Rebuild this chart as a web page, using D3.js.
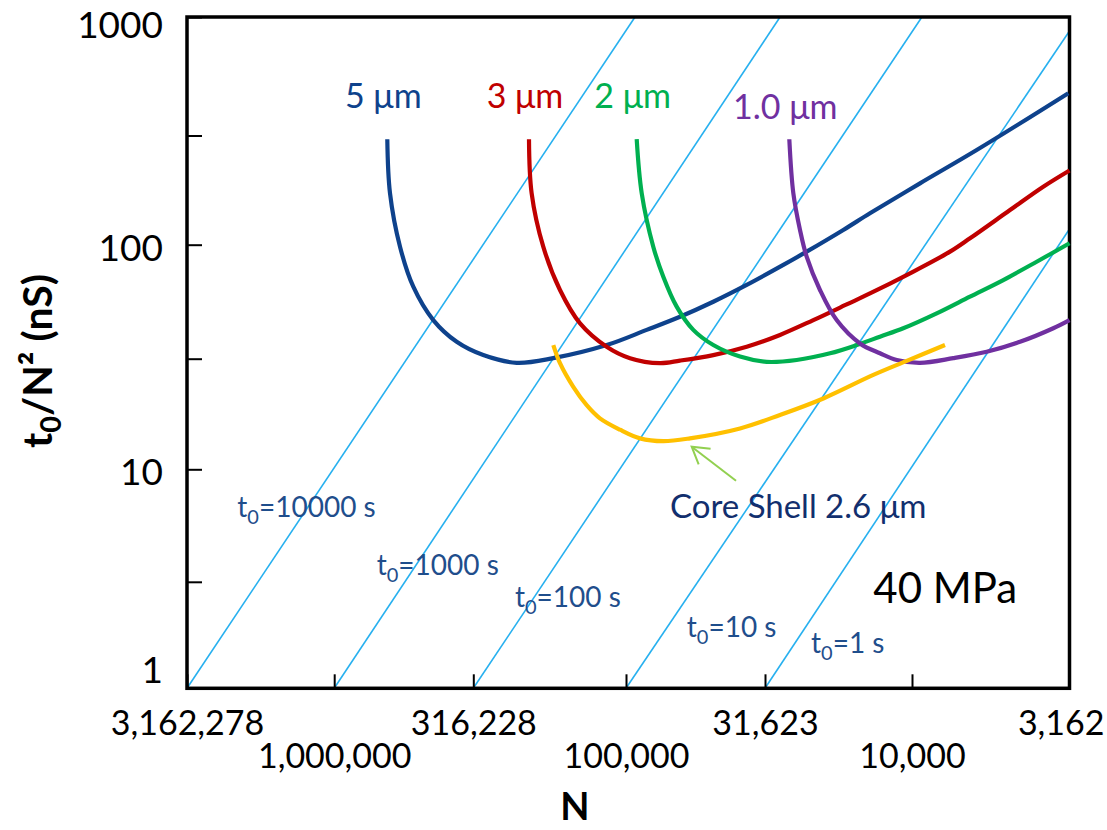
<!DOCTYPE html>
<html><head><meta charset="utf-8">
<script src="https://cdn.jsdelivr.net/npm/d3@7"></script>
<style>body{margin:0;background:#fff}svg{display:block}text{font-family:Lato,"Open Sans",sans-serif}</style>
</head><body>
<svg id="chart" width="1107" height="830"></svg>
<script>
// ---------- data ----------
const xTickValues = [3162278, 1000000, 316228, 100000, 31623, 10000, 3162];
const xTickLabels = ["3,162,278", "1,000,000", "316,228", "100,000", "31,623", "10,000", "3,162"];
const yTickValues = [1, 3.1623, 10, 31.623, 100, 316.23, 1000];
const yTickLabels = ["1", "", "10", "", "100", "", "1000"];

const seriesNames = ["5 μm", "3 μm", "2 μm", "1.0 μm", "Core Shell 2.6 μm"];

const n5 = [644400, 630100, 580000, 519600, 440400, 362800, 293400, 228000, 173000, 115700, 84260, 63940, 48530, 36800, 27400, 22820, 17130, 13900, 9432, 6232, 3190];
const v5 = [304, 172, 98, 65.4, 46.7, 37.5, 32.8, 30.3, 31.8, 36.3, 42.3, 48.3, 56.2, 66.6, 81.5, 93.2, 116.8, 139.2, 191.0, 271.4, 477];

const n3 = [207800, 203700, 186600, 164500, 141400, 115700, 96740, 75460, 63940, 48530, 36800, 28120, 21660, 16680, 13900, 10160, 7575, 6544, 4885, 3831, 3162];
const v3 = [304, 172, 98, 63.3, 45.2, 35.7, 31.8, 30.2, 31.0, 32.8, 35.7, 40.2, 46.7, 54.7, 61.1, 74.9, 93.2, 107.0, 144.1, 184.3, 218.7];

const n2 = [91520, 87800, 79780, 73420, 65720, 57280, 48530, 38890, 31200, 24680, 19000, 15420, 12850, 10710, 8350, 6544, 5131, 4019, 3162];
const v2 = [304, 172, 98, 72.4, 53.5, 42.3, 36.3, 32.3, 30.6, 31.2, 33.4, 36.3, 39.5, 43.0, 50.0, 59.2, 70.0, 84.2, 101.5];

const n1 = [26140, 25330, 24040, 22820, 20560, 18040, 15030, 12850, 11270, 9432, 7393, 5792, 4540, 3560, 3162];
const v1 = [304, 172, 116.8, 88.6, 63.3, 46.7, 36.9, 33.4, 31.2, 30.3, 31.8, 33.9, 37.5, 43.0, 46.7];

const nCS = [173000, 164500, 148800, 134500, 121700, 104600, 89050, 73420, 58860, 38890, 28120, 20030, 13540, 10420, 7857];
const vCS = [36.3, 30.2, 23.6, 19.5, 17.0, 15.1, 13.8, 13.4, 13.8, 15.3, 17.6, 20.9, 26.7, 30.9, 36.3];

// constant-t0 guide lines
const t0Values = ["10000", "1000", "100", "10", "1"];
const t0StartN = [3162278, 1000000, 316228, 100000, 31623];
const t0StartV = [1, 1, 1, 1, 1];
const t0EndN = [92800, 28100, 9300, 3162, 3162];
const t0EndV = [1000, 1000, 1000, 873, 118];
const t0LabelN = [2134000, 703600, 231000, 60440, 22050];
const t0LabelV = [6.16, 3.39, 2.41, 1.735, 1.47];

// annotations
const csLabelN = 69450, csLabelV = 6.06;
const arrowN = [40200, 58040], arrowV = [8.90, 12.65];
const pressureLabel = "40 MPa", pressureN = 13540, pressureV = 2.523;

// ---------- layout / style ----------
const colors = ["#0E428C", "#C00000", "#00B050", "#7030A0", "#FFC000"];
const svg = d3.select("#chart");
const L = 187, R = 1069.5, T = 17, B = 688.3;

const x = d3.scaleLog().domain(xTickValues).range([L, 334.2, 473.3, 626, 765, 912, R]);
const y = d3.scaleLog().domain(yTickValues).range([B, 581.8, 469.3, 358.7, 244.7, 135.5, T]);

// guide lines
const guides = svg.append("g");
t0Values.forEach((t, i) => {
  guides.append("line")
    .attr("x1", x(t0StartN[i])).attr("y1", y(t0StartV[i]))
    .attr("x2", x(t0EndN[i])).attr("y2", y(t0EndV[i]))
    .attr("stroke", "#27B0EF").attr("stroke-width", 1.6);
  const tx = guides.append("text")
    .attr("x", x(t0LabelN[i])).attr("y", y(t0LabelV[i]))
    .attr("fill", "#1F4E8C").attr("font-size", 28);
  tx.append("tspan").text("t");
  tx.append("tspan").attr("font-size", 20).attr("dy", 7).text("0");
  tx.append("tspan").attr("dy", -7).text("=" + t + " s");
});

// axes
const xAxis = svg.append("g").attr("transform", `translate(0,${B})`)
  .call(d3.axisBottom(x).tickValues(xTickValues).tickSize(-14).tickPadding(0)
    .tickFormat((d, i) => xTickLabels[i]));
xAxis.select(".domain").remove();
xAxis.selectAll("line").attr("stroke", "#000").attr("stroke-width", 2);
xAxis.selectAll("text").attr("font-size", 34).attr("fill", "#000").attr("dy", 0)
  .attr("y", (d, i) => i % 2 ? 80 : 47)
  .each(function () {
    const b = this.getBBox();
    const gx = x(d3.select(this.parentNode).datum());
    const over = gx + b.x + b.width - 1104;
    if (over > 0) d3.select(this).attr("x", -over);
  });

const yAxis = svg.append("g").attr("transform", `translate(${L},0)`)
  .call(d3.axisLeft(y).tickValues(yTickValues).tickSize(-15).tickPadding(24)
    .tickFormat((d, i) => yTickLabels[i]));
yAxis.select(".domain").remove();
yAxis.selectAll("line").attr("stroke", "#000").attr("stroke-width", 2);
yAxis.selectAll("text").attr("font-size", 37).attr("fill", "#000")
  .attr("dy", (d, i) => i === 0 ? "-0.15em" : (i === yTickValues.length - 1 ? "0.55em" : "0.42em"));

// plot border
svg.append("rect").attr("x", L).attr("y", T).attr("width", R - L).attr("height", B - T)
  .attr("fill", "none").attr("stroke", "#000").attr("stroke-width", 3.5);

// curves
const line = d3.line().x(d => x(d[0])).y(d => y(d[1])).curve(d3.curveCatmullRom.alpha(0.5));
const allN = [n5, n3, n2, n1, nCS], allV = [v5, v3, v2, v1, vCS];
allN.forEach((ns, k) => {
  const pts = ns.map((n, j) => [n, allV[k][j]]);
  svg.append("path").datum(pts).attr("d", line)
    .attr("fill", "none").attr("stroke", colors[k]).attr("stroke-width", 4.2)
    .attr("stroke-linecap", "butt").attr("stroke-linejoin", "round");
});

// series labels above curve starts
[0, 1, 2, 3].forEach(k => {
  svg.append("text")
    .attr("x", x(allN[k][0]) - 4).attr("y", y(allV[k][0]) - (k === 3 ? 20 : 31))
    .attr("text-anchor", "middle").attr("font-size", 34).attr("fill", colors[k])
    .text(seriesNames[k]);
});

// core shell label + arrow
svg.append("text").attr("x", x(csLabelN)).attr("y", y(csLabelV))
  .attr("font-size", 33).attr("fill", "#122F6E").text(seriesNames[4]);
svg.append("defs").append("marker").attr("id", "ah")
  .attr("markerUnits", "userSpaceOnUse").attr("viewBox", "-18 -12 20 24")
  .attr("markerWidth", 20).attr("markerHeight", 24).attr("refX", 0).attr("refY", 0)
  .attr("orient", "auto")
  .append("path").attr("d", "M-16.3,-9.8L0,0L-16.3,9.8")
  .attr("fill", "none").attr("stroke", "#92D050").attr("stroke-width", 2);
svg.append("line")
  .attr("x1", x(arrowN[0])).attr("y1", y(arrowV[0]))
  .attr("x2", x(arrowN[1])).attr("y2", y(arrowV[1]))
  .attr("stroke", "#92D050").attr("stroke-width", 2).attr("marker-end", "url(#ah)");

svg.append("text").attr("x", x(pressureN)).attr("y", y(pressureV))
  .attr("font-size", 42).attr("fill", "#000").text(pressureLabel);

// axis titles
svg.append("text").attr("x", 575).attr("y", 820).attr("text-anchor", "middle")
  .attr("font-size", 38).attr("font-weight", "bold").text("N");
const yt = svg.append("text").attr("transform", "translate(52,361) rotate(-90)")
  .attr("text-anchor", "middle").attr("font-size", 41).attr("font-weight", "bold");
yt.append("tspan").text("t");
yt.append("tspan").attr("font-size", 29).attr("dy", 9).text("0");
yt.append("tspan").attr("dy", -9).text("/N² (nS)");
</script>
</body></html>
